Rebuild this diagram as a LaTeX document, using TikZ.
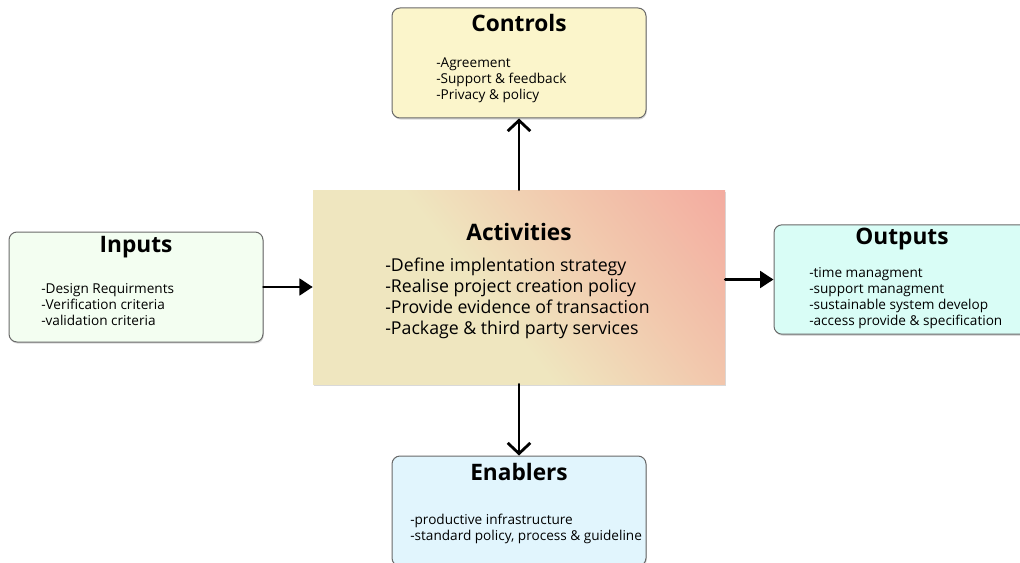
\documentclass[tikz,border=0pt]{standalone}
\usepackage{fontspec}
\setmainfont{Open Sans}
\usetikzlibrary{arrows.meta,shadows}

\definecolor{ctrlFill}{RGB}{251,245,203}
\definecolor{inFill}{RGB}{243,254,241}
\definecolor{outFill}{RGB}{217,253,246}
\definecolor{enFill}{RGB}{225,245,253}
\definecolor{edgeGray}{RGB}{105,105,105}
\definecolor{actYellow}{RGB}{239,230,191}
\definecolor{actPeach}{RGB}{242,198,172}
\definecolor{actPink}{RGB}{244,150,150}

\pgfdeclarehorizontalshading{actshade}{100bp}{color(0bp)=(actYellow); color(45bp)=(actYellow); color(66bp)=(actPeach); color(100bp)=(actPink)}

\tikzset{
  box/.style={draw=edgeGray, line width=0.75pt, rounded corners=6pt, minimum width=190.5pt, minimum height=82.5pt,
    drop shadow={opacity=0.3, shadow xshift=0.6pt, shadow yshift=-1.2pt}},
  title/.style={inner sep=0.75pt, font=\fontsize{17}{20}\selectfont\bfseries},
  items/.style={anchor=west, inner sep=0.75pt, align=left, font=\fontsize{10.2}{12}\selectfont},
  flow/.style={line width=2.1pt, line cap=round},
  barb/.style={-{Straight Barb[length=8pt, width=17pt, line width=2.1pt]}},
  tri/.style={-{Triangle[length=10pt, width=12.5pt]}}
}

\begin{document}
\begin{tikzpicture}[x=0.75pt,y=0.75pt,yscale=-1,xscale=1]
  \useasboundingbox (0,0) rectangle (1020,563);

  % Boxes
  \node (ctrl) [box, fill=ctrlFill] at (519,63) {};
  \node (in) [box, fill=inFill] at (136,287) {};
  \node (out) [box, fill=outFill, minimum height=82pt] at (901,279.5) {};
  \node (en) [box, fill=enFill] at (519,511) {};
  \node (act) [shading=actshade, shading angle=38, minimum width=309pt, minimum height=145.5pt,
    drop shadow={opacity=0.3, shadow xshift=0.6pt, shadow yshift=-1.5pt}] at (519,287) {};

  % Arrows
  \draw [flow, barb] (act.north) -- (ctrl.south);
  \draw [flow, barb] (act.south) -- (en.north);
  \draw [flow, tri] (in.east) -- (act.west);
  \draw [flow, tri] (act.east |- out.west) -- (out.west);

  % Text Node
  \node (ctrlT) [title] at (519,23) {Controls};
  \node (ctrlL) [items] at (435,80.5) {-Agreement\\-Support \& feedback\\-Privacy \& policy};
  % Text Node
  \node (inT) [title] at (136,247) {Inputs};
  \node (inL) [items] at (40,305) {-Design Requirments\\-Verification criteria\\-validation criteria};
  % Text Node
  \node (actT) [title] at (519,232) {Activities};
  \node (actL) [items, font=\fontsize{13.3}{15.75}\selectfont] at (384,298.5) {-Define implentation strategy\\-Realise project creation policy\\-Provide evidence of transaction\\-Package \& third party services};
  % Text Node
  \node (outT) [title] at (902,239) {Outputs};
  \node (outL) [items] at (808,298) {-time managment\\-support managment\\-sustainable system develop\\-access provide \& specification};
  % Text Node
  \node (enT) [title] at (519,472) {Enablers};
  \node (enL) [items] at (409,529) {-productive infrastructure\\-standard policy, process \& guideline};

\end{tikzpicture}
\end{document}
